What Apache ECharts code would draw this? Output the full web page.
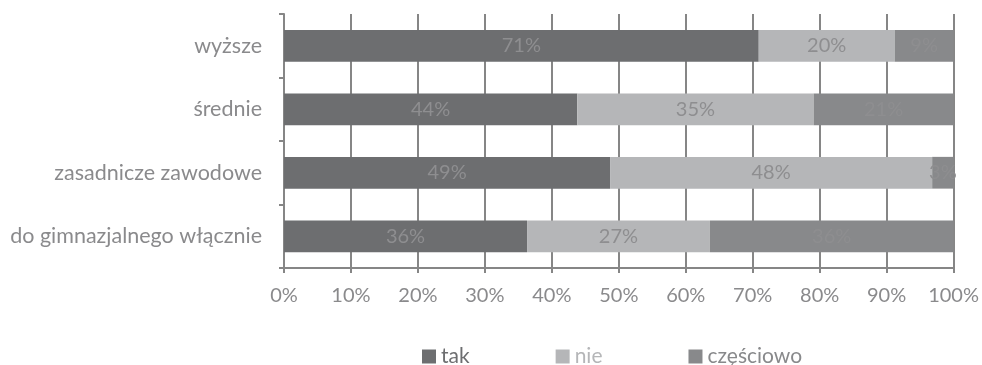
<!DOCTYPE html>
<html>
<head>
<meta charset="utf-8">
<script src="https://cdn.jsdelivr.net/npm/echarts@6/dist/echarts.min.js"></script>
<style>
  html, body { margin: 0; padding: 0; background: #fff; }
  #chart { width: 982px; height: 365px; }
</style>
</head>
<body>
<div id="chart"></div>
<script>
// Education levels, bottom to top as drawn on the category axis
const categories = ['do gimnazjalnego włącznie', 'zasadnicze zawodowe', 'średnie', 'wyższe'];
const seriesNames = ['tak', 'nie', 'częściowo'];
const takValues = [36.3, 48.7, 43.8, 70.9];
const nieValues = [27.3, 48.1, 35.3, 20.3];
const czesciowoValues = [36.4, 3.2, 20.9, 8.8];
const xTicks = [0, 10, 20, 30, 40, 50, 60, 70, 80, 90, 100];

const FONT = 'Lato';
const barColors = ['#6d6e70', '#b5b6b8', '#88898b'];
const labelColor = '#8e8e90';
const axisTextColor = '#8a8a8c';
const axisGray = '#868686';

const chart = echarts.init(document.getElementById('chart'), null, { renderer: 'canvas' });

const makeSeries = (name, values, color) => ({
  name,
  type: 'bar',
  stack: 'total',
  barWidth: '50%',
  data: values,
  itemStyle: { color },
  label: {
    show: true,
    position: 'inside',
    color: labelColor,
    fontFamily: FONT,
    fontSize: 20,
    formatter: p => Math.round(p.value) + '%'
  }
});

chart.setOption({
  animation: false,
  backgroundColor: '#ffffff',
  grid: { left: 284, right: 28, top: 14, bottom: 97, containLabel: false },
  xAxis: {
    type: 'value',
    min: 0,
    max: xTicks[xTicks.length - 1],
    interval: xTicks[1] - xTicks[0],
    axisLine: { show: true, lineStyle: { color: axisGray, width: 2 } },
    axisTick: { show: true, length: 5, lineStyle: { color: axisGray, width: 2 } },
    splitLine: { show: true, lineStyle: { color: axisGray, width: 2 } },
    axisLabel: {
      color: axisTextColor, fontFamily: FONT, fontSize: 20, margin: 18,
      formatter: v => v + '%'
    }
  },
  yAxis: {
    type: 'category',
    data: categories,
    axisLine: { show: true, lineStyle: { color: axisGray, width: 2 } },
    axisTick: { show: true, length: 5, lineStyle: { color: axisGray, width: 2 } },
    axisLabel: { color: axisTextColor, fontFamily: FONT, fontSize: 21.5, margin: 22 }
  },
  legend: {
    top: 341,
    left: 417,
    itemWidth: 14,
    itemHeight: 14,
    itemGap: 86,
    icon: 'rect',
    data: seriesNames.map((n, i) => ({ name: n, textStyle: { color: barColors[i] } })),
    textStyle: { fontFamily: FONT, fontSize: 21 }
  },
  series: [
    makeSeries(seriesNames[0], takValues, barColors[0]),
    makeSeries(seriesNames[1], nieValues, barColors[1]),
    makeSeries(seriesNames[2], czesciowoValues, barColors[2])
  ]
});
</script>
</body>
</html>
